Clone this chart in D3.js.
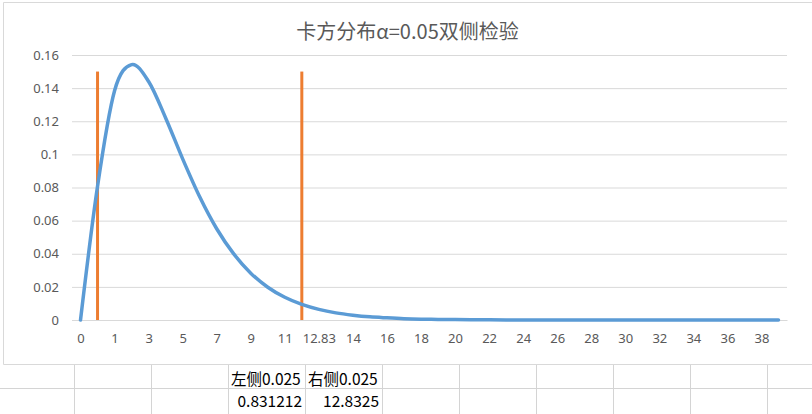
<!DOCTYPE html>
<html>
<head>
<meta charset="utf-8">
<script src="https://cdn.jsdelivr.net/npm/d3@7"></script>
<style>
  body { margin: 0; background: #fff; }
  svg { display: block; }
</style>
</head>
<body>
<div id="chart"></div>
<script>
// category labels of the x axis (every other one is printed)
var categories = ["0", "0.83", "1", "2", "3", "4", "5", "6", "7", "8", "9", "10", "11", "12",
    "12.83", "13", "14", "15", "16", "17", "18", "19", "20", "21", "22", "23", "24", "25",
    "26", "27", "28", "29", "30", "31", "32", "33", "34", "35", "36", "37", "38", "39"];

// density curve, one value per category
var density = [0, 0.0807, 0.1384, 0.1542, 0.1440, 0.1220, 0.0973, 0.0744, 0.0551, 0.0399,
    0.0283, 0.0198, 0.0137, 0.0094, 0.0064, 0.0043, 0.0029, 0.0019, 0.0013, 0.0008,
    0.0005, 0.00035, 0.00023, 0.00015, 0.0001, 0.00006, 0.00004, 0.000026, 0.000016, 0.00001,
    0.000007, 0.000004, 0.000003, 0.000002, 0.000001, 0.000001, 0, 0, 0, 0, 0, 0];

// the two orange markers: category and height
var critCategories = ["0.83", "12"];
var critHeight = 0.15;

var yTicks = [0, 0.02, 0.04, 0.06, 0.08, 0.1, 0.12, 0.14, 0.16];

// cells under the chart
var cellHeaders = ["左侧0.025", "右侧0.025"];
var cellValues = ["0.831212", "12.8325"];

var svgWidth = 812;
var svgHeight = 414;

var plot = { left: 72, right: 787, top: 55, bottom: 320 };

var svg = d3.select("#chart")
    .append("svg")
    .attr("width", svgWidth)
    .attr("height", svgHeight);

// spreadsheet cells below
var cellGroup = svg.append("g");
cellGroup.append("line")
    .attr("x1", 0).attr("x2", svgWidth)
    .attr("y1", 388.5).attr("y2", 388.5)
    .attr("stroke", "#d4d4d4");
d3.range(10).forEach(function (i) {
    var cx = 74.5 + 77 * i;
    cellGroup.append("line")
        .attr("x1", cx).attr("x2", cx)
        .attr("y1", 364).attr("y2", svgHeight)
        .attr("stroke", "#d4d4d4");
});
cellHeaders.forEach(function (t, i) {
    cellGroup.append("text")
        .attr("x", 231 + 77 * i)
        .attr("y", 385)
        .attr("font-family", "'Noto Sans CJK SC', sans-serif")
        .attr("font-size", "15.5px")
        .attr("fill", "#000")
        .text(t);
});
cellValues.forEach(function (t, i) {
    cellGroup.append("text")
        .attr("x", 302 + 77 * i)
        .attr("y", 406.5)
        .attr("text-anchor", "end")
        .attr("font-family", "'Noto Sans CJK SC', sans-serif")
        .attr("font-size", "15.5px")
        .attr("fill", "#000")
        .text(t);
});

// chart frame
svg.append("path")
    .attr("d", "M3.5,364.5 V2.5 H812 M3.5,364.5 H812")
    .attr("fill", "none")
    .attr("stroke", "#d9d9d9");

// title
svg.append("text")
    .attr("x", 407.5)
    .attr("y", 38.5)
    .attr("text-anchor", "middle")
    .attr("font-family", "'Noto Sans CJK SC', sans-serif")
    .attr("font-size", "20px")
    .attr("fill", "#595959")
    .text("卡方分布α=0.05双侧检验");

var xScale = d3.scalePoint()
    .domain(categories)
    .range([plot.left, plot.right])
    .padding(0.5);

var yScale = d3.scaleLinear()
    .domain([0, 0.16])
    .range([plot.bottom, plot.top]);

// y axis with gridlines
var leftAxis = d3.axisLeft(yScale)
    .tickValues(yTicks)
    .tickSize(-(plot.right - plot.left))
    .tickPadding(13)
    .tickFormat(function (d) { return String(+d.toFixed(2)); });

var yAxisGroup = svg.append("g")
    .attr("transform", `translate(${plot.left}, 0)`)
    .call(leftAxis);
yAxisGroup.select(".domain").remove();
yAxisGroup.selectAll("line").attr("stroke", "#d9d9d9");
yAxisGroup.selectAll("text")
    .attr("font-family", "'Noto Sans', sans-serif")
    .attr("font-size", "13px")
    .attr("fill", "#595959");

// x axis
var bottomAxis = d3.axisBottom(xScale)
    .tickValues(categories.filter(function (d, i) { return i % 2 === 0; }))
    .tickSize(0)
    .tickPadding(14);

var xAxisGroup = svg.append("g")
    .attr("transform", `translate(0, ${plot.bottom})`)
    .call(bottomAxis);
xAxisGroup.select(".domain").attr("stroke", "#d9d9d9");
xAxisGroup.selectAll("text")
    .attr("font-family", "'Noto Sans', sans-serif")
    .attr("font-size", "13px")
    .attr("fill", "#595959");

// orange markers
svg.append("g").selectAll("line")
    .data(critCategories)
    .enter()
    .append("line")
    .attr("x1", d => xScale(d))
    .attr("x2", d => xScale(d))
    .attr("y1", yScale(0))
    .attr("y2", yScale(critHeight))
    .attr("stroke", "#ed7d31")
    .attr("stroke-width", 3);

// density curve
var line = d3.line()
    .x((d, i) => xScale(categories[i]))
    .y(d => yScale(d))
    .curve(d3.curveCatmullRom.alpha(0));

svg.append("path")
    .datum(density)
    .attr("d", line)
    .attr("fill", "none")
    .attr("stroke", "#5b9bd5")
    .attr("stroke-width", 3.5)
    .attr("stroke-linecap", "round")
    .attr("stroke-linejoin", "round");
</script>
</body>
</html>
